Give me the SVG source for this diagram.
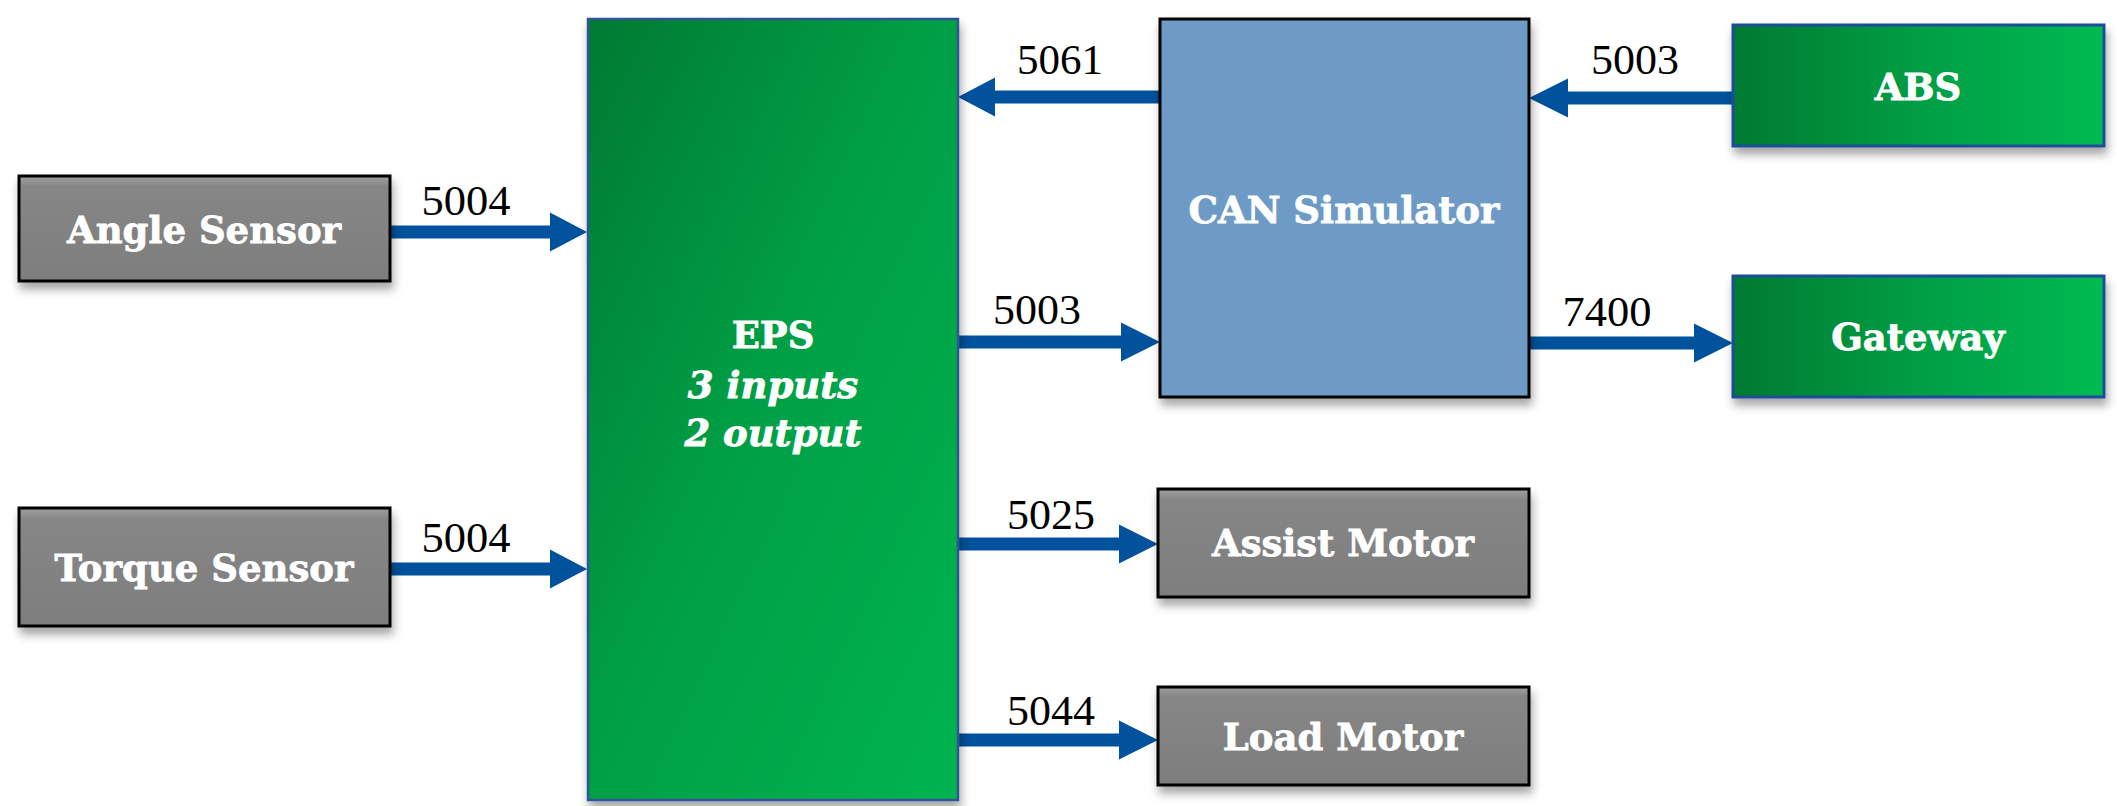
<svg xmlns="http://www.w3.org/2000/svg" width="2117" height="806" viewBox="0 0 2117 806">
<style>
.lbl{font-family:"DejaVu Serif","Liberation Serif",serif;font-weight:bold;font-size:37px;fill:#ffffff;stroke:#ffffff;stroke-width:0.8;text-anchor:middle}
.it{font-style:italic}
.num{font-family:"Liberation Serif","Times New Roman",serif;font-size:42px;fill:#000000;text-anchor:middle}
.gray{fill:url(#gGray);stroke:#000000;stroke-width:3}
.can{fill:#6D9BC6;stroke:#000000;stroke-width:3}
.eps{fill:url(#gEps);stroke:#2F5597;stroke-width:2.5}
.grn{fill:url(#gGrn);stroke:#1F4E9A;stroke-width:3}
.arrow{fill:#00529C}
</style>
<defs>
<filter id="sh" x="-10%" y="-10%" width="125%" height="130%">
<feDropShadow dx="2" dy="7" stdDeviation="5" flood-color="#000000" flood-opacity="0.35"/>
</filter>
<linearGradient id="gGray" x1="0" y1="0" x2="0" y2="1">
<stop offset="0" stop-color="#a0a0a0"/>
<stop offset="0.1" stop-color="#868686"/>
<stop offset="1" stop-color="#7e7e7e"/>
</linearGradient>
<linearGradient id="gEps" x1="0" y1="0" x2="1" y2="1">
<stop offset="0" stop-color="#007A33"/>
<stop offset="0.45" stop-color="#009E45"/>
<stop offset="1" stop-color="#00B450"/>
</linearGradient>
<linearGradient id="gGrn" x1="0" y1="0" x2="1" y2="0">
<stop offset="0" stop-color="#007A30"/>
<stop offset="0.5" stop-color="#009E44"/>
<stop offset="1" stop-color="#00BA52"/>
</linearGradient>
</defs>
<rect width="2117" height="806" fill="#ffffff"/>

<g id="connectors">
<polygon class="arrow" points="390,225.5 550,225.5 550,212.5 587,232 550,251.5 550,238.5 390,238.5"/>
<polygon class="arrow" points="390,562.5 550,562.5 550,549.5 587,569 550,588.5 550,575.5 390,575.5"/>
<polygon class="arrow" points="1160,90.5 995,90.5 995,77.5 958,97 995,116.5 995,103.5 1160,103.5"/>
<polygon class="arrow" points="958,335.5 1121,335.5 1121,322.5 1160,342 1121,361.5 1121,348.5 958,348.5"/>
<polygon class="arrow" points="1733,91.5 1568,91.5 1568,78.5 1529,98 1568,117.5 1568,104.5 1733,104.5"/>
<polygon class="arrow" points="1529,336.5 1694,336.5 1694,323.5 1733,343 1694,362.5 1694,349.5 1529,349.5"/>
<polygon class="arrow" points="958,537.5 1119,537.5 1119,524.5 1158,544 1119,563.5 1119,550.5 958,550.5"/>
<polygon class="arrow" points="958,733.5 1119,733.5 1119,720.5 1158,740 1119,759.5 1119,746.5 958,746.5"/>
<text class="num" x="466" y="215" textLength="89" lengthAdjust="spacingAndGlyphs">5004</text>
<text class="num" x="466" y="552" textLength="89" lengthAdjust="spacingAndGlyphs">5004</text>
<text class="num" x="1060" y="74" textLength="86" lengthAdjust="spacingAndGlyphs">5061</text>
<text class="num" x="1037" y="324" textLength="88" lengthAdjust="spacingAndGlyphs">5003</text>
<text class="num" x="1635" y="74" textLength="88" lengthAdjust="spacingAndGlyphs">5003</text>
<text class="num" x="1607" y="326" textLength="89" lengthAdjust="spacingAndGlyphs">7400</text>
<text class="num" x="1051" y="529" textLength="88" lengthAdjust="spacingAndGlyphs">5025</text>
<text class="num" x="1051" y="725" textLength="88" lengthAdjust="spacingAndGlyphs">5044</text>
</g>

<g id="angle-sensor">
<rect class="gray" x="19" y="176" width="371" height="105" filter="url(#sh)"/>
<text class="lbl" x="204" y="243">Angle Sensor</text>
</g>
<g id="torque-sensor">
<rect class="gray" x="19" y="508" width="371" height="118" filter="url(#sh)"/>
<text class="lbl" x="204" y="581">Torque Sensor</text>
</g>
<g id="eps">
<rect class="eps" x="588" y="19" width="370" height="781" filter="url(#sh)"/>
<text class="lbl" x="773" y="348">EPS</text>
<text class="lbl it" x="773" y="398">3 inputs</text>
<text class="lbl it" x="773" y="446">2 output</text>
</g>
<g id="can-simulator">
<rect class="can" x="1160" y="19" width="369" height="378" filter="url(#sh)"/>
<text class="lbl" x="1344" y="223">CAN Simulator</text>
</g>
<g id="abs">
<rect class="grn" x="1733" y="25" width="371" height="121" filter="url(#sh)"/>
<text class="lbl" x="1918" y="100">ABS</text>
</g>
<g id="gateway">
<rect class="grn" x="1733" y="276" width="371" height="121" filter="url(#sh)"/>
<text class="lbl" x="1918" y="350">Gateway</text>
</g>
<g id="assist-motor">
<rect class="gray" x="1158" y="489" width="371" height="108" filter="url(#sh)"/>
<text class="lbl" x="1343" y="556">Assist Motor</text>
</g>
<g id="load-motor">
<rect class="gray" x="1158" y="687" width="371" height="98" filter="url(#sh)"/>
<text class="lbl" x="1343" y="750">Load Motor</text>
</g>
</svg>
